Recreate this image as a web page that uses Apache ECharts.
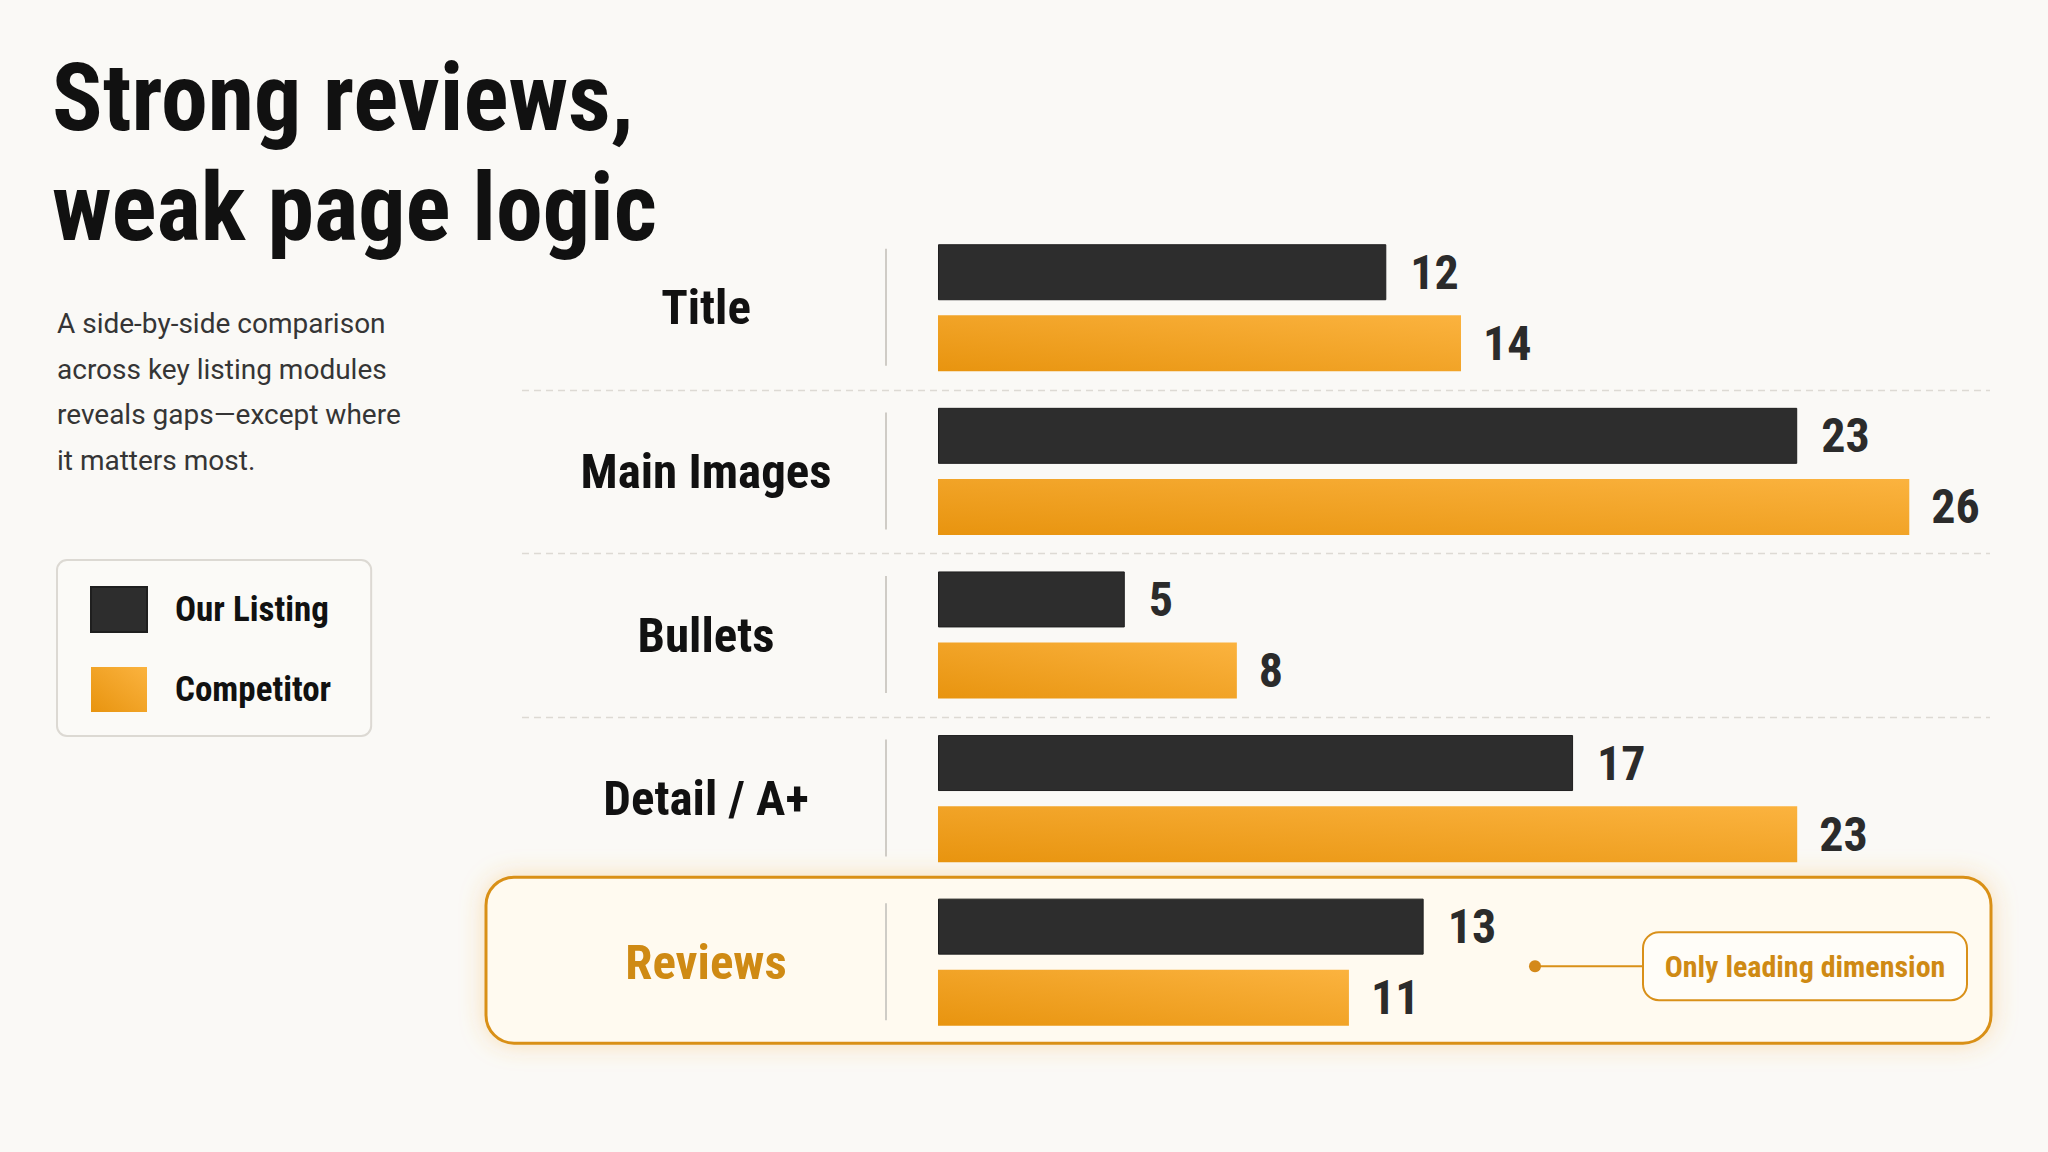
<!DOCTYPE html>
<html>
<head>
<meta charset="utf-8">
<script src="https://cdn.jsdelivr.net/npm/echarts@6/dist/echarts.min.js"></script>
<style>
  html, body { margin: 0; padding: 0; background: #faf9f6; }
  #chart { width: 2048px; height: 1152px; }
</style>
</head>
<body>
<div id="chart"></div>
<script>
// ---- data ----
const categories = ['Title', 'Main Images', 'Bullets', 'Detail / A+', 'Reviews'];
const ourListing = [12, 23, 5, 17, 13];
const competitor = [14, 26, 8, 23, 11];
const seriesNames = ['Our Listing', 'Competitor'];
const highlightCategory = 'Reviews';
const annotationText = 'Only leading dimension';
const titleLines = ['Strong reviews,', 'weak page logic'];
const subtitleLines = ['A side-by-side comparison', 'across key listing modules', 'reveals gaps\u2014except where', 'it matters most.'];
const xMax = 28;

// ---- styles ----
const NARROW = "'Liberation Sans Narrow', 'Arial Narrow', 'Roboto Condensed', 'DejaVu Sans Condensed', Roboto, sans-serif";
const ORANGE_TXT = '#cf8a14';
const DARK = '#2d2d2d';
const orangeFill = new echarts.graphic.LinearGradient(0, 1, 1, 0, [
  { offset: 0, color: '#e8940f' },
  { offset: 1, color: '#fbb33f' }
]);

const chart = echarts.init(document.getElementById('chart'), null, { renderer: 'svg', width: 2048, height: 1152 });

const option = {
  backgroundColor: '#faf9f6',
  animation: false,
  grid: { left: 938, top: 226, right: 64, bottom: 108, containLabel: false },
  legend: {
    data: seriesNames,
    orient: 'vertical',
    left: 57, top: 560,
    icon: 'rect',
    itemWidth: 56, itemHeight: 45, itemGap: 34,
    padding: [26, 40, 24, 33],
    backgroundColor: '#fbfaf7',
    borderColor: '#dcd9d3', borderWidth: 2, borderRadius: 10,
    selectedMode: false,
    textStyle: { fontFamily: NARROW, fontWeight: 'bold', fontSize: 35, color: '#111', padding: [0, 0, 0, 23] }
  },
  xAxis: { type: 'value', min: 0, max: xMax, show: false },
  yAxis: {
    type: 'category', data: categories, inverse: true,
    axisLine: { show: false }, axisTick: { show: false }, splitLine: { show: false },
    axisLabel: {
      margin: 232, align: 'center',
      fontFamily: NARROW, fontWeight: 'bold', fontSize: 49, color: '#111',
      formatter: v => v === highlightCategory ? '{hl|' + v + '}' : v,
      rich: { hl: { fontFamily: NARROW, fontWeight: 'bold', fontSize: 49, color: ORANGE_TXT } }
    }
  },
  series: [
    {
      name: seriesNames[0], type: 'bar', data: ourListing,
      barWidth: 56, barGap: '27%',
      itemStyle: { color: DARK, borderColor: '#1f1f1f', borderWidth: 1 },
      label: { show: true, position: 'right', distance: 24, fontFamily: NARROW, fontWeight: 'bold', fontSize: 48, color: '#2b2b2b' }
    },
    {
      name: seriesNames[1], type: 'bar', data: competitor,
      barWidth: 56,
      itemStyle: { color: orangeFill },
      label: { show: true, position: 'right', distance: 22, fontFamily: NARROW, fontWeight: 'bold', fontSize: 48, color: '#2b2b2b' }
    }
  ]
};
chart.setOption(option);

// ---- decorations placed through the chart's own scales ----
const cy = i => chart.convertToPixel({ gridIndex: 0 }, [0, categories[i]])[1];
const x0 = chart.convertToPixel({ gridIndex: 0 }, [0, categories[0]])[0];
const graphics = [];

titleLines.forEach((t, k) => {
  graphics.push({
    type: 'text', left: 52, top: 51 + k * 110, z: 10,
    style: { text: t, font: 'bold 94px ' + NARROW, fill: '#111', lineHeight: 94 }
  });
});
graphics.push({
  type: 'text', left: 57, top: 301, z: 10,
  style: { text: subtitleLines.join('\n'), font: '28px Roboto, sans-serif', fill: '#353535', lineHeight: 45.5 }
});

const hi = categories.indexOf(highlightCategory);
// dashed separators between categories (not next to the highlighted one)
for (let i = 0; i < categories.length - 1; i++) {
  if (i + 1 === hi || i === hi) continue;
  const y = Math.round((cy(i) + cy(i + 1)) / 2) + 0.5;
  graphics.push({
    type: 'line', z: 1, silent: true,
    shape: { x1: 522, y1: y, x2: 1990, y2: y },
    style: { stroke: '#dddad4', lineWidth: 1.5, lineDash: [7, 5] }
  });
}
// vertical label separators
for (let i = 0; i < categories.length; i++) {
  const c = cy(i);
  graphics.push({
    type: 'line', z: 10, silent: true,
    shape: { x1: x0 - 52, y1: c - 59, x2: x0 - 52, y2: c + 58 },
    style: { stroke: '#cfccc6', lineWidth: 2 }
  });
}
// highlight box + annotation
if (hi >= 0) {
  const c = cy(hi);
  graphics.push({
    type: 'rect', z: 0, silent: true,
    shape: { x: 486, y: c - 85, width: 1505, height: 166, r: 28 },
    style: { fill: '#fffaf0', stroke: '#d99019', lineWidth: 3, shadowBlur: 24, shadowColor: 'rgba(245,170,60,0.35)' }
  });
  const ay = c + 4;
  graphics.push({ type: 'line', z: 10, silent: true, shape: { x1: 1535, y1: ay, x2: 1643, y2: ay }, style: { stroke: '#d99019', lineWidth: 2 } });
  graphics.push({ type: 'circle', z: 11, silent: true, shape: { cx: 1535, cy: ay, r: 6 }, style: { fill: '#d4891a' } });
  graphics.push({
    type: 'rect', z: 10, silent: true,
    shape: { x: 1643, y: ay - 34, width: 324, height: 68, r: 16 },
    style: { fill: '#fffdf8', stroke: '#d99019', lineWidth: 2 }
  });
  graphics.push({
    type: 'text', z: 11, silent: true, x: 1805, y: ay,
    style: { text: annotationText, font: 'bold 30px ' + NARROW, fill: ORANGE_TXT, align: 'center', verticalAlign: 'middle' }
  });
}
chart.setOption({ graphic: graphics });
</script>
</body>
</html>
